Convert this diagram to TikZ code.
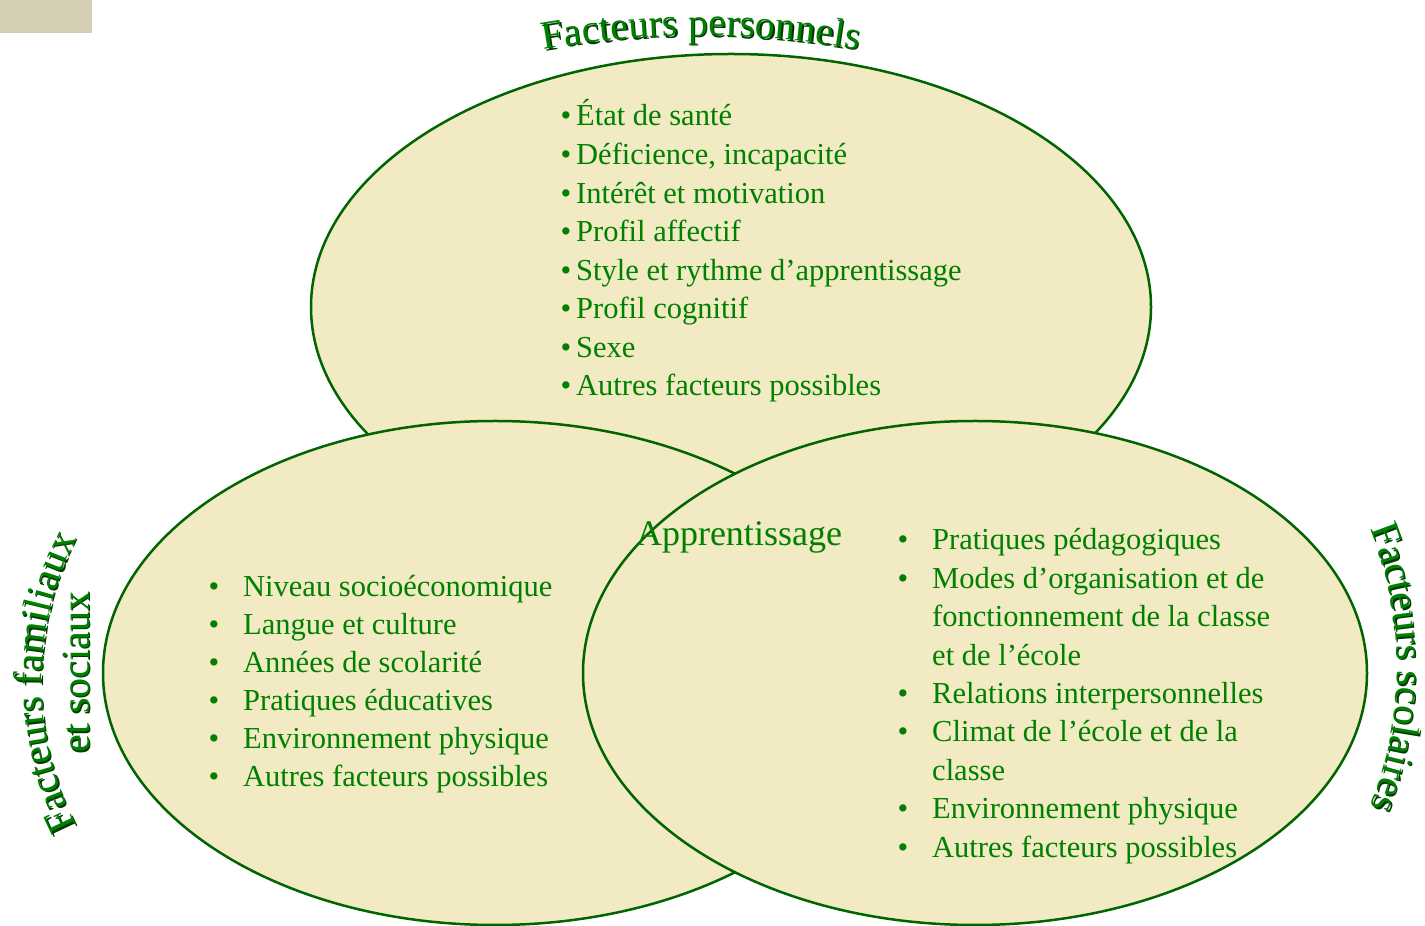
\documentclass[tikz,border=0pt]{standalone}
\usepackage{fontspec}
\setmainfont{Liberation Serif}
\usetikzlibrary{shapes.geometric,decorations.text,calc}

\definecolor{fond}{RGB}{242,234,194}
\definecolor{trait}{RGB}{0,100,0}
\definecolor{vert}{RGB}{0,128,0}
\definecolor{ombrevert}{RGB}{0,55,0}
\definecolor{coin}{RGB}{213,207,181}

\newcommand{\liste}{\fontsize{30.5}{36}\selectfont}
\newcommand{\titrefont}{\fontsize{40}{42}\selectfont}

\begin{document}
\begin{tikzpicture}[x=1pt,y=1pt,
   zone/.style={ellipse,draw=trait,line width=2.5pt,fill=fond,inner sep=0pt,outer sep=0pt},
   ligne/.style={anchor=base west,inner sep=0pt,text=vert,font=\liste},
   puce/.style={ligne,execute at begin node={\llap{\textbullet\hspace{#1}}}},
   puce/.default=24pt,
   titre/.style={decorate,decoration={text along path,text align=center,text color=#1}}]
\useasboundingbox (0,0) rectangle (1425,926);
\fill[coin] (0,893) rectangle (92,926);

% les trois zones
\node[zone,minimum width=840pt,minimum height=506pt] (perso) at (731,619) {};
\node[zone,minimum width=784pt,minimum height=504pt] (famil) at (495,253) {};
\node[zone,minimum width=784pt,minimum height=504pt] (scol) at (975,253) {};

% facteurs personnels
\foreach \t [count=\i] in {État de santé,{Déficience, incapacité},Intérêt et motivation,
    Profil affectif,Style et rythme d’apprentissage,Profil cognitif,Sexe,Autres facteurs possibles}
  \node[puce=5pt] (p\i) at (576,{800-38.57*(\i-1)}) {\t};

% facteurs familiaux et sociaux
\foreach \t [count=\i] in {Niveau socioéconomique,Langue et culture,Années de scolarité,
    Pratiques éducatives,Environnement physique,Autres facteurs possibles}
  \node[puce] (f\i) at (243,{329-38*(\i-1)}) {\t};

% facteurs scolaires
\foreach \t/\s [count=\i] in {Pratiques pédagogiques/puce,Modes d’organisation et de/puce,
    fonctionnement de la classe/ligne,et de l’école/ligne,Relations interpersonnelles/puce,
    Climat de l’école et de la/puce,classe/ligne,Environnement physique/puce,
    Autres facteurs possibles/puce}
  \node[\s] (s\i) at (932,{376-38.4*(\i-1)}) {\t};

\node[anchor=base,inner sep=0pt,text=vert,font=\fontsize{36}{40}\selectfont] (appr) at (739,380) {Apprentissage};

% titres courbes
\coordinate (ctop) at (701,-20);
\coordinate (cfam) at (357,244);
\coordinate (csoc) at (89,254);
\coordinate (csco) at (1025,258);
\foreach \c/\d in {ombrevert/1.5,vert/0} {
  \path[titre=\c,decoration={text={|\titrefont|Facteurs personnels}}]
    ($(ctop)+(\d,-\d)+(112:910)$) arc (112:68:910);
  \path[titre=\c,decoration={text={|\titrefont|Facteurs familiaux}}]
    ($(cfam)+(\d,-\d)+(215:315)$) arc (215:145:315);
  \path[titre=\c,decoration={text={|\titrefont|et sociaux}}]
    ($(csoc)+(\d,-\d)+(0,-110)$) -- ++(0,220);
  \path[titre=\c,decoration={text={|\titrefont|Facteurs scolaires}}]
    ($(csco)+(\d,-\d)+(35:372)$) arc (35:-35:372);
}
\end{tikzpicture}
\end{document}
